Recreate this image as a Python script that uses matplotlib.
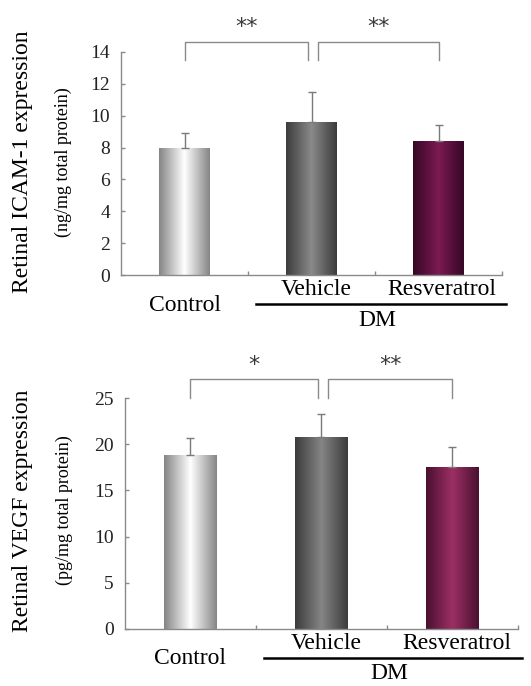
import numpy as np
import matplotlib
matplotlib.use("Agg")
from matplotlib import pyplot as plt
from matplotlib.colors import LinearSegmentedColormap

plt.rcParams['font.family'] = ['Liberation Serif', 'DejaVu Serif']

groups = ["Control", "Vehicle", "Resveratrol"]

icam_mean = [7.95, 9.62, 8.41]
icam_err = [0.95, 1.9, 1.0]
icam_stars = ["**", "**"]

vegf_mean = [18.9, 20.8, 17.57]
vegf_err = [1.75, 2.45, 2.15]
vegf_stars = ["*", "**"]

# edge, centre colours of the horizontal gradients
top_shades = [("#858585", "#ffffff"), ("#3c3c3c", "#8a8a8a"), ("#350826", "#7c1a52")]
bot_shades = [("#858585", "#ffffff"), ("#3c3c3c", "#858585"), ("#4a1030", "#9c3064")]

AX = "#8a8a8a"


def panel(ax, means, errs, stars, shades, ymax, step, br_top, br_low, star_y,
          lab_y, ctrl_y, line_y, dm_y, main_lab, sub_lab, lab_pos):
    x = np.arange(len(groups))
    bars = ax.bar(x, means, width=0.4, color="none", edgecolor="none")
    grad = np.linspace(0, 1, 200).reshape(1, -1)
    for b, (edge, mid) in zip(bars, shades):
        cmap = LinearSegmentedColormap.from_list("g", [edge, mid, edge])
        x0, y0 = b.get_x(), b.get_y()
        im = ax.imshow(grad, cmap=cmap, aspect="auto", zorder=2,
                       extent=[x0, x0 + b.get_width(), y0, y0 + b.get_height()])
        im.set_clip_path(b)
    ax.errorbar(x, means, yerr=[np.zeros(len(errs)), errs], fmt="none",
                ecolor="#7a7a7a", elinewidth=1, capsize=3, capthick=1, zorder=3)

    ax.set_xlim(-0.5, 2.5)
    ax.set_ylim(0, ymax)
    ax.set_yticks(np.arange(0, ymax + 0.1, step))
    ax.set_xticks([0.5, 1.5, 2.5])
    ax.set_xticklabels([])
    for s in ["top", "right"]:
        ax.spines[s].set_visible(False)
    for s in ["left", "bottom"]:
        ax.spines[s].set_color(AX)
        ax.spines[s].set_linewidth(1)
    ax.tick_params(axis="both", direction="in", length=3, color=AX, width=1)
    ax.tick_params(axis="y", labelsize=14, pad=8, labelcolor="#222222")
    ax.set_facecolor("none")

    # significance brackets
    for (a, b), s in zip([(0.0, 0.97), (1.05, 2.0)], stars):
        ax.plot([a, a, b, b], [br_low, br_top, br_top, br_low], color="#8a8a8a",
                lw=1, clip_on=False)
        ax.text((a + b) / 2, star_y, s, ha="center", va="center", fontsize=16,
                color="#3a3a3a", family="DejaVu Sans", clip_on=False)

    # group labels below the axis
    ax.text(0, ctrl_y, groups[0], ha="center", va="center", fontsize=17, clip_on=False)
    ax.text(1.04, lab_y, groups[1], ha="center", va="center", fontsize=17, clip_on=False)
    ax.text(2.03, lab_y, groups[2], ha="center", va="center", fontsize=17, clip_on=False)
    ax.plot([0.56, 2.53], [line_y, line_y], color="black", lw=1.8, clip_on=False)
    ax.text(1.52, dm_y, "DM", ha="center", va="center", fontsize=17, clip_on=False)

    fig = ax.figure
    fig.text(lab_pos[0], lab_pos[2], main_lab, rotation=90, ha="center", va="center",
             fontsize=17)
    fig.text(lab_pos[1], lab_pos[2], sub_lab, rotation=90, ha="center", va="center",
             fontsize=13)


fig = plt.figure(figsize=(5.31, 6.86), dpi=100)

ax1 = fig.add_axes([0.2279, 0.5991, 0.7175, 0.3251])
panel(ax1, icam_mean, icam_err, icam_stars, top_shades, 14, 2, 14.6, 13.5, 15.6,
      -0.94, -1.9, -1.82, -2.85,
      "Retinal ICAM-1 expression", "(ng/mg total protein)", (0.043, 0.119, 0.764))

ax2 = fig.add_axes([0.2354, 0.0835, 0.740, 0.3359])
panel(ax2, vegf_mean, vegf_err, vegf_stars, bot_shades, 25, 5, 27.05, 25.0, 28.6,
      -1.55, -3.2, -3.18, -4.85,
      "Retinal VEGF expression", "(pg/mg total protein)", (0.043, 0.122, 0.256))

fig.savefig("out.png", dpi=100, facecolor="white")
